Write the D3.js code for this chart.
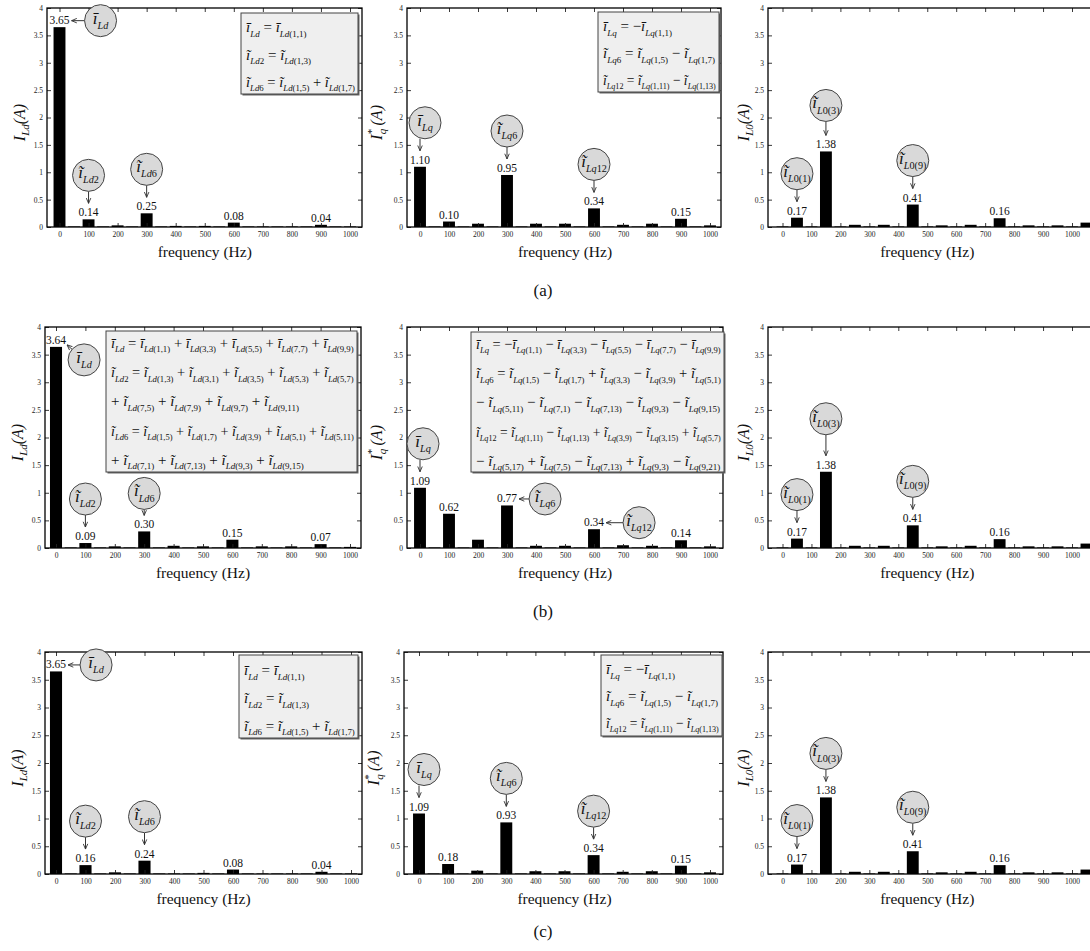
<!DOCTYPE html>
<html>
<head>
<meta charset="utf-8">
<script src="https://cdn.jsdelivr.net/npm/d3@7"></script>
<style>
body { margin: 0; background: #fff; }
svg text { font-family: "Liberation Serif", "Times New Roman", Times, "DejaVu Serif", "Noto Serif", serif; }
</style>
</head>
<body>
<svg id="chart" width="1090" height="951"></svg>
<script>
// categories
const freqDQ = [0,50,100,150,200,250,300,350,400,450,500,550,600,650,700,750,800,850,900,950,1000];
const freq0 = [0,50,100,150,200,250,300,350,400,450,500,550,600,650,700,750,800,850,900,950,1000,1050];
const yTicks = [0,0.5,1,1.5,2,2.5,3,3.5,4];
const xTicks = [0,100,200,300,400,500,600,700,800,900,1000];

// series values (A)
const iLdA = [3.65,0.01,0.14,0.01,0.03,0.01,0.25,0.01,0.02,0.01,0.02,0.01,0.08,0.01,0.01,0.01,0.01,0.01,0.04,0.01,0.01];
const iLqA = [1.10,0.01,0.10,0.01,0.06,0.01,0.95,0.01,0.06,0.01,0.06,0.01,0.34,0.01,0.04,0.01,0.06,0.01,0.15,0.01,0.03];
const iL0A = [0.01,0.17,0.01,1.38,0.01,0.04,0.01,0.04,0.01,0.41,0.01,0.03,0.01,0.04,0.01,0.16,0.01,0.03,0.01,0.03,0.01,0.08];
const iLdB = [3.64,0.01,0.09,0.01,0.03,0.01,0.30,0.01,0.04,0.01,0.03,0.01,0.15,0.01,0.03,0.01,0.03,0.01,0.07,0.01,0.02];
const iLqB = [1.09,0.01,0.62,0.01,0.15,0.01,0.77,0.01,0.04,0.01,0.04,0.01,0.34,0.01,0.05,0.01,0.04,0.01,0.14,0.01,0.03];
const iL0B = [0.01,0.17,0.01,1.38,0.01,0.04,0.01,0.04,0.01,0.41,0.01,0.03,0.01,0.04,0.01,0.16,0.01,0.03,0.01,0.03,0.01,0.08];
const iLdC = [3.65,0.01,0.16,0.01,0.03,0.01,0.24,0.01,0.01,0.01,0.02,0.01,0.08,0.01,0.01,0.01,0.01,0.01,0.04,0.01,0.01];
const iLqC = [1.09,0.01,0.18,0.01,0.06,0.01,0.93,0.01,0.05,0.01,0.05,0.01,0.34,0.01,0.04,0.01,0.05,0.01,0.15,0.01,0.03];
const iL0C = [0.01,0.17,0.01,1.38,0.01,0.04,0.01,0.04,0.01,0.41,0.01,0.03,0.01,0.04,0.01,0.16,0.01,0.03,0.01,0.03,0.01,0.08];

// which bars carry a value label
const labeledDQ = [0,100,300,600,900];
const labeled0 = [50,150,450,750];

// formula boxes (~ tilde, ^ bar)
const eqA_d = ["^i{Ld} = ^i{Ld(1,1)}", "~i{Ld2} = ~i{Ld(1,3)}", "~i{Ld6} = ~i{Ld(1,5)} + ~i{Ld(1,7)}"];
const eqA_q = ["^i{Lq} = \u2212^i{Lq(1,1)}", "~i{Lq6} = ~i{Lq(1,5)} \u2212 ~i{Lq(1,7)}", "~i{Lq12} = ~i{Lq(1,11)} \u2212 ~i{Lq(1,13)}"];
const eqB_d = [
  "^i{Ld} = ^i{Ld(1,1)} + ^i{Ld(3,3)} + ^i{Ld(5,5)} + ^i{Ld(7,7)} + ^i{Ld(9,9)}",
  "~i{Ld2} = ~i{Ld(1,3)} + ~i{Ld(3,1)} + ~i{Ld(3,5)} + ~i{Ld(5,3)} + ~i{Ld(5,7)}",
  "+ ~i{Ld(7,5)} + ~i{Ld(7,9)} + ~i{Ld(9,7)} + ~i{Ld(9,11)}",
  "~i{Ld6} = ~i{Ld(1,5)} + ~i{Ld(1,7)} + ~i{Ld(3,9)} + ~i{Ld(5,1)} + ~i{Ld(5,11)}",
  "+ ~i{Ld(7,1)} + ~i{Ld(7,13)} + ~i{Ld(9,3)} + ~i{Ld(9,15)}"
];
const eqB_q = [
  "^i{Lq} = \u2212^i{Lq(1,1)} \u2212 ^i{Lq(3,3)} \u2212 ^i{Lq(5,5)} \u2212 ^i{Lq(7,7)} \u2212 ^i{Lq(9,9)}",
  "~i{Lq6} = ~i{Lq(1,5)} \u2212 ~i{Lq(1,7)} + ~i{Lq(3,3)} \u2212 ~i{Lq(3,9)} + ~i{Lq(5,1)}",
  "\u2212 ~i{Lq(5,11)} \u2212 ~i{Lq(7,1)} \u2212 ~i{Lq(7,13)} \u2212 ~i{Lq(9,3)} \u2212 ~i{Lq(9,15)}",
  "~i{Lq12} = ~i{Lq(1,11)} \u2212 ~i{Lq(1,13)} + ~i{Lq(3,9)} \u2212 ~i{Lq(3,15)} + ~i{Lq(5,7)}",
  "\u2212 ~i{Lq(5,17)} + ~i{Lq(7,5)} \u2212 ~i{Lq(7,13)} + ~i{Lq(9,3)} \u2212 ~i{Lq(9,21)}"
];

// layout
const rows = [
  {tag: "(a)", tagY: 296, top: 8, bottom: 227,
   px: [{l: 47, r: 362, x0: 59.5, x1: 350}, {l: 407, r: 721, x0: 420, x1: 710}, {l: 768, r: 1110, x0: 782.5, x1: 1072}]},
  {tag: "(b)", tagY: 617, top: 327, bottom: 548,
   px: [{l: 45, r: 361, x0: 56, x1: 350}, {l: 407, r: 723, x0: 420, x1: 710}, {l: 768, r: 1110, x0: 782.5, x1: 1072}]},
  {tag: "(c)", tagY: 937, top: 652, bottom: 874,
   px: [{l: 45, r: 362, x0: 56, x1: 351}, {l: 404, r: 723, x0: 419, x1: 710}, {l: 768, r: 1110, x0: 782.5, x1: 1072}]}
];

const panels = [
  // row a
  [{kind: "d", freqs: freqDQ, values: iLdA, labeled: labeledDQ, eq: eqA_d, box: [241, 13, 117, 81], lh: 27.5, fy: 19,
    notes: [{f: 0, m: "^", s: "Ld", dir: "left", len: 13}, {f: 100, m: "~", s: "Ld2", dir: "down"}, {f: 300, m: "~", s: "Ld6", dir: "down"}]},
   {kind: "q", freqs: freqDQ, values: iLqA, labeled: labeledDQ, eq: eqA_q, box: [598, 12, 121, 80], lh: 27, fy: 19,
    notes: [{f: 0, m: "^", s: "Lq", dir: "down", dx: 5}, {f: 300, m: "~", s: "Lq6", dir: "down"}, {f: 600, m: "~", s: "Lq12", dir: "down"}]},
   {kind: "0", freqs: freq0, values: iL0A, labeled: labeled0,
    notes: [{f: 50, m: "~", s: "L0(1)", dir: "down"}, {f: 150, m: "~", s: "L0(3)", dir: "down", len: 14}, {f: 450, m: "~", s: "L0(9)", dir: "down"}]}],
  // row b
  [{kind: "d", freqs: freqDQ, values: iLdB, labeled: labeledDQ, eq: eqB_d, box: [106, 331, 251, 141], lh: 29.2, fy: 17,
    notes: [{f: 0, m: "^", s: "Ld", dir: "diag"}, {f: 100, m: "~", s: "Ld2", dir: "down"}, {f: 300, m: "~", s: "Ld6", dir: "down", len: 6}]},
   {kind: "q", freqs: freqDQ, values: iLqB, labeled: labeledDQ, eq: eqB_q, box: [471, 332, 253, 140], lh: 29.2, fy: 17,
    notes: [{f: 0, m: "^", s: "Lq", dir: "down", dx: 3}, {f: 300, m: "~", s: "Lq6", dir: "left", len: 10}, {f: 600, m: "~", s: "Lq12", dir: "left", len: 17}]},
   {kind: "0", freqs: freq0, values: iL0B, labeled: labeled0,
    notes: [{f: 50, m: "~", s: "L0(1)", dir: "down"}, {f: 150, m: "~", s: "L0(3)", dir: "down", len: 21}, {f: 450, m: "~", s: "L0(9)", dir: "down"}]}],
  // row c
  [{kind: "d", freqs: freqDQ, values: iLdC, labeled: labeledDQ, eq: eqA_d, box: [239, 655, 119, 83], lh: 28, fy: 20,
    notes: [{f: 0, m: "^", s: "Ld", dir: "left", len: 12}, {f: 100, m: "~", s: "Ld2", dir: "down"}, {f: 300, m: "~", s: "Ld6", dir: "down"}]},
   {kind: "q", freqs: freqDQ, values: iLqC, labeled: labeledDQ, eq: eqA_q, box: [601, 655, 121, 81], lh: 27, fy: 19,
    notes: [{f: 0, m: "^", s: "Lq", dir: "down", dx: 5}, {f: 300, m: "~", s: "Lq6", dir: "down"}, {f: 600, m: "~", s: "Lq12", dir: "down"}]},
   {kind: "0", freqs: freq0, values: iL0C, labeled: labeled0,
    notes: [{f: 50, m: "~", s: "L0(1)", dir: "down"}, {f: 150, m: "~", s: "L0(3)", dir: "down"}, {f: 450, m: "~", s: "L0(9)", dir: "down"}]}]
];

const SERIF = "'Liberation Serif', 'Times New Roman', Times, 'DejaVu Serif', serif";
const svg = d3.select("#chart").attr("font-family", SERIF);
svg.append("defs").append("marker")
  .attr("id", "arr").attr("viewBox", "0 0 8 8").attr("refX", 7.5).attr("refY", 4)
  .attr("markerWidth", 6).attr("markerHeight", 6).attr("orient", "auto")
  .append("path").attr("d", "M0.5,1 L7.5,4 L0.5,7").attr("fill", "none").attr("stroke", "#333").attr("stroke-width", 1.2);

// text with over-marked italic i and subscripts
function mathText(parent, x, y, str, size, anchor) {
  const t = parent.append("text").attr("x", x).attr("y", y)
    .attr("font-size", size).attr("text-anchor", anchor || "start")
    .style("white-space", "pre").attr("fill", "#111");
  const re = /([~^])i\{([^}]*)\}|([^~^]+)/g;
  let m, shift = 0;
  while ((m = re.exec(str))) {
    if (m[3]) {
      t.append("tspan").attr("dy", -shift).text(m[3]);
      shift = 0;
    } else {
      t.append("tspan").attr("dy", -shift).attr("font-style", "italic").text(m[1] === "~" ? "\u0129" : "\u012B");
      const sub = m[2];
      const k = sub.search(/[^A-Za-z]/);
      const letters = k < 0 ? sub : sub.slice(0, k);
      const rest = k < 0 ? "" : sub.slice(k);
      shift = size * 0.3;
      t.append("tspan").attr("dy", shift).attr("font-size", size * 0.6).attr("font-style", "italic").text(letters);
      if (rest) t.append("tspan").attr("font-size", size * 0.6).text(rest);
    }
  }
  return t;
}

function yLabel(g, x, y, kind) {
  const t = g.append("text").attr("transform", `translate(${x},${y}) rotate(-90)`)
    .attr("text-anchor", "middle").attr("font-size", 16).attr("font-style", "italic").attr("fill", "#111");
  t.append("tspan").text("I");
  if (kind === "q") {
    t.append("tspan").attr("font-size", 11).attr("dy", -7).text("*");
    t.append("tspan").attr("font-size", 11).attr("dx", -5).attr("dy", 11).text("q");
    t.append("tspan").attr("dy", -4).text("\u2009(A)");
  } else {
    t.append("tspan").attr("font-size", 11).attr("dy", 4).text(kind === "d" ? "Ld" : "L0");
    t.append("tspan").attr("dy", -4).text("(A)");
  }
}

function styleAxis(sel) {
  sel.select(".domain").remove();
  sel.attr("font-size", 7.5).attr("font-family", SERIF).attr("color", "#222");
  sel.selectAll(".tick line").attr("stroke-width", 0.9);
}

function drawPanel(row, px, cfg) {
  const x = d3.scaleLinear().domain([0, 1000]).range([px.x0, px.x1]);
  const y = d3.scaleLinear().domain([0, 4]).range([row.bottom, row.top]);
  const g = svg.append("g");
  const bw = x(41) - x(0);
  const data = cfg.freqs.map((f, i) => ({f, v: cfg.values[i]}));

  g.selectAll("rect.bar").data(data).join("rect").attr("class", "bar")
    .attr("x", d => x(d.f) - bw / 2).attr("y", d => y(d.v))
    .attr("width", bw).attr("height", d => y(0) - y(d.v)).attr("fill", "#000");

  // axes, ticks pointing inward on all four sides
  g.append("g").attr("transform", `translate(${px.l},0)`)
    .call(d3.axisLeft(y).tickValues(yTicks).tickSize(-4).tickPadding(4).tickFormat(d => String(d))).call(styleAxis);
  g.append("g").attr("transform", `translate(${px.r},0)`)
    .call(d3.axisRight(y).tickValues(yTicks).tickSize(-4).tickFormat("")).call(styleAxis);
  g.append("g").attr("transform", `translate(0,${row.bottom})`)
    .call(d3.axisBottom(x).tickValues(xTicks).tickSize(-4).tickPadding(5).tickFormat(d => String(d))).call(styleAxis);
  g.append("g").attr("transform", `translate(0,${row.top})`)
    .call(d3.axisTop(x).tickValues(xTicks).tickSize(-4).tickFormat("")).call(styleAxis);

  g.append("rect").attr("x", px.l).attr("y", row.top)
    .attr("width", px.r - px.l).attr("height", row.bottom - row.top)
    .attr("fill", "none").attr("stroke", "#000").attr("stroke-width", 1.3);

  // value labels
  const labels = {};
  data.filter(d => cfg.labeled.includes(d.f)).forEach(d => {
    const t = g.append("text").attr("x", x(d.f)).attr("y", y(d.v) - 3)
      .attr("text-anchor", "middle").attr("font-size", 11.5).attr("fill", "#111").text(d.v.toFixed(2));
    labels[d.f] = {x: x(d.f), base: y(d.v) - 3, w: t.node().getComputedTextLength()};
  });

  // circled callouts
  const r = 16;
  cfg.notes.forEach(n => {
    const lb = labels[n.f];
    const len = n.len != null ? n.len : 12;
    let tip, c;
    if (n.dir === "down") {
      tip = [lb.x, lb.base - 13];
      c = [lb.x + (n.dx || 0), tip[1] - len - r];
    } else if (n.dir === "left") {
      tip = [lb.x + lb.w / 2 + 2, lb.base - 3.5];
      c = [tip[0] + len + r, tip[1]];
    } else {
      tip = [lb.x + lb.w / 2 + 1, lb.base + 1];
      c = [tip[0] + 17, tip[1] + 15];
    }
    const dxv = tip[0] - c[0], dyv = tip[1] - c[1];
    const dist = Math.hypot(dxv, dyv);
    const start = n.dir === "down" ? [tip[0], c[1] + r] : [c[0] + r * dxv / dist, c[1] + r * dyv / dist];
    g.append("line").attr("x1", start[0]).attr("y1", start[1]).attr("x2", tip[0]).attr("y2", tip[1])
      .attr("stroke", "#333").attr("stroke-width", 1).attr("marker-end", "url(#arr)");
    g.append("circle").attr("cx", c[0]).attr("cy", c[1]).attr("r", r)
      .attr("fill", "#d9d9d9").attr("stroke", "#444").attr("stroke-width", 1);
    mathText(g, c[0], c[1] + 3, `${n.m}i{${n.s}}`, 17, "middle");
  });

  // formula box
  if (cfg.eq) {
    const [bx, by, bwid, bh] = cfg.box;
    g.append("rect").attr("x", bx + 1.5).attr("y", by + 1.5).attr("width", bwid).attr("height", bh).attr("fill", "#666");
    g.append("rect").attr("x", bx).attr("y", by).attr("width", bwid).attr("height", bh)
      .attr("fill", "#efefef").attr("stroke", "#444").attr("stroke-width", 1);
    cfg.eq.forEach((line, i) => {
      const tx = bx + 5, ty = by + cfg.fy + i * cfg.lh;
      const t = mathText(g, tx, ty, line, 15, "start");
      const w = t.node().getComputedTextLength();
      const maxW = bwid - 8;
      if (w > maxW) t.attr("transform", `translate(${tx},${ty}) scale(${maxW / w},1) translate(${-tx},${-ty})`);
    });
  }

  // axis titles
  const yOff = {d: 22, q: 25, "0": 19}[cfg.kind];
  yLabel(g, px.l - yOff, (row.top + row.bottom) / 2 + 5, cfg.kind);
  g.append("text").attr("x", (x(0) + x(1000)) / 2).attr("y", row.bottom + 30)
    .attr("text-anchor", "middle").attr("font-size", 15.5).attr("fill", "#111").text("frequency (Hz)");
}

rows.forEach((row, ri) => {
  panels[ri].forEach((cfg, pi) => drawPanel(row, row.px[pi], cfg));
  svg.append("text").attr("x", 543).attr("y", row.tagY).attr("text-anchor", "middle")
    .attr("font-size", 17).attr("fill", "#111").text(row.tag);
});
</script>
</body>
</html>
